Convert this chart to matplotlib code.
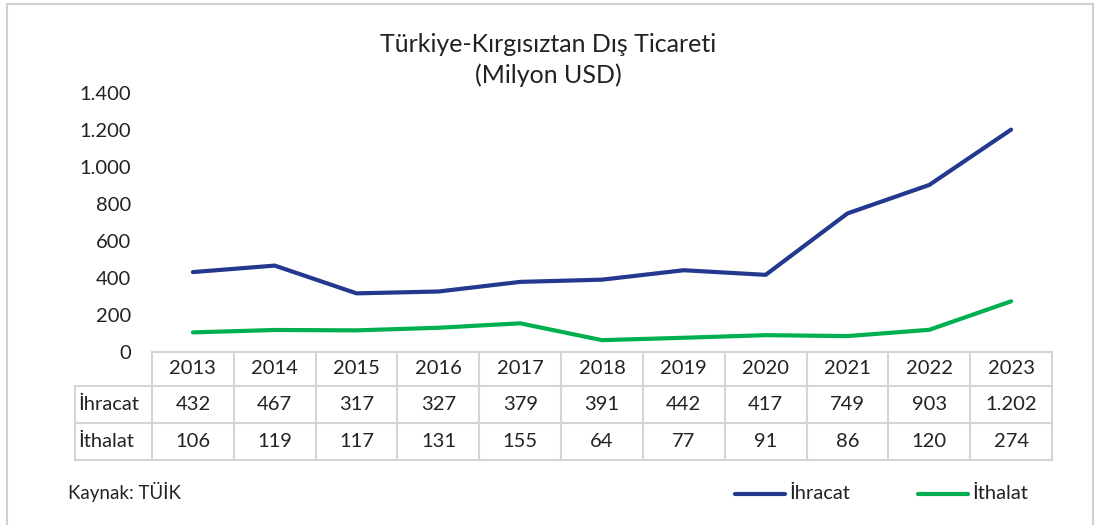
import matplotlib.pyplot as plt
from matplotlib.lines import Line2D
from matplotlib.patches import Rectangle
from matplotlib.ticker import FuncFormatter

years = ['2013', '2014', '2015', '2016', '2017', '2018', '2019', '2020', '2021', '2022', '2023']
ihracat = [432, 467, 317, 327, 379, 391, 442, 417, 749, 903, 1202]
ithalat = [106, 119, 117, 131, 155, 64, 77, 91, 86, 120, 274]

plt.rcParams['font.family'] = ['Lato', 'DejaVu Sans']
blue = '#24388f'
green = '#00b050'
grid = '#d4d4d4'
txt = '#222222'
fs = 14.5

W, H = 1107, 525
fig = plt.figure(figsize=(W / 100, H / 100), dpi=100)

def fx(px):
    return px / W

def fy(py):
    return 1 - py / H

# outer chart border
fig.add_artist(Rectangle((fx(7), fy(540)), fx(1093) - fx(7), fy(4) - fy(540),
                         fill=False, edgecolor='#d0d0d0', lw=1.5, transform=fig.transFigure))

x0, x1 = 152, 1052
ax = fig.add_axes([fx(x0), fy(352), fx(x1) - fx(x0), fy(93) - fy(352)])
xs = list(range(len(years)))
ax.plot(xs, ihracat, color=blue, lw=3, solid_capstyle='round')
ax.plot(xs, ithalat, color=green, lw=3, solid_capstyle='round')
ax.set_xlim(-0.5, len(years) - 0.5)
ax.set_ylim(0, 1400)
ax.set_yticks(range(0, 1401, 200))
ax.yaxis.set_major_formatter(FuncFormatter(lambda v, p: f'{int(v):,}'.replace(',', '.')))
ax.tick_params(axis='y', length=0, labelsize=fs, colors=txt, pad=15)
ax.set_xticks([])
for s in ax.spines.values():
    s.set_visible(False)

fig.text(0.495, fy(45), 'Türkiye-Kırgısıztan Dış Ticareti', ha='center', va='center', fontsize=18, color=txt)
fig.text(0.495, fy(75), '(Milyon USD)', ha='center', va='center', fontsize=18, color=txt)

# data table under the axis
rows_y = [352, 386, 423, 460]
lab_x = 75
cw = (x1 - x0) / len(years)
def hline(xa, xb, y):
    fig.add_artist(Line2D([fx(xa), fx(xb)], [fy(y), fy(y)], color=grid, lw=1.5))
def vline(x, ya, yb):
    fig.add_artist(Line2D([fx(x), fx(x)], [fy(ya), fy(yb)], color=grid, lw=1.5))

hline(x0, x1, rows_y[0])
for y in rows_y[1:]:
    hline(lab_x, x1, y)
vline(lab_x, rows_y[1], rows_y[3])
for i in range(len(years) + 1):
    vline(x0 + i * cw, rows_y[0], rows_y[3])

def fmt(v):
    return f'{v:,}'.replace(',', '.')

for i, yr in enumerate(years):
    cx = fx(x0 + (i + 0.5) * cw)
    fig.text(cx, fy((rows_y[0] + rows_y[1]) / 2), yr, ha='center', va='center', fontsize=fs, color=txt)
    fig.text(cx, fy((rows_y[1] + rows_y[2]) / 2), fmt(ihracat[i]), ha='center', va='center', fontsize=fs, color=txt)
    fig.text(cx, fy((rows_y[2] + rows_y[3]) / 2), fmt(ithalat[i]), ha='center', va='center', fontsize=fs, color=txt)
fig.text(fx(78), fy((rows_y[1] + rows_y[2]) / 2), 'İhracat', ha='left', va='center', fontsize=fs, color=txt)
fig.text(fx(78), fy((rows_y[2] + rows_y[3]) / 2), 'İthalat', ha='left', va='center', fontsize=fs, color=txt)

fig.text(fx(68), fy(492), 'Kaynak: TÜİK', ha='left', va='center', fontsize=13.5, color=txt)

# legend
for (xa, xb, col, name) in [(735, 785, blue, 'İhracat'), (918, 968, green, 'İthalat')]:
    fig.add_artist(Line2D([fx(xa), fx(xb)], [fy(494), fy(494)], color=col, lw=3, solid_capstyle='round'))
    fig.text(fx(xb + 4), fy(493), name, ha='left', va='center', fontsize=fs, color=txt)

fig.savefig('out.png', dpi=100)
